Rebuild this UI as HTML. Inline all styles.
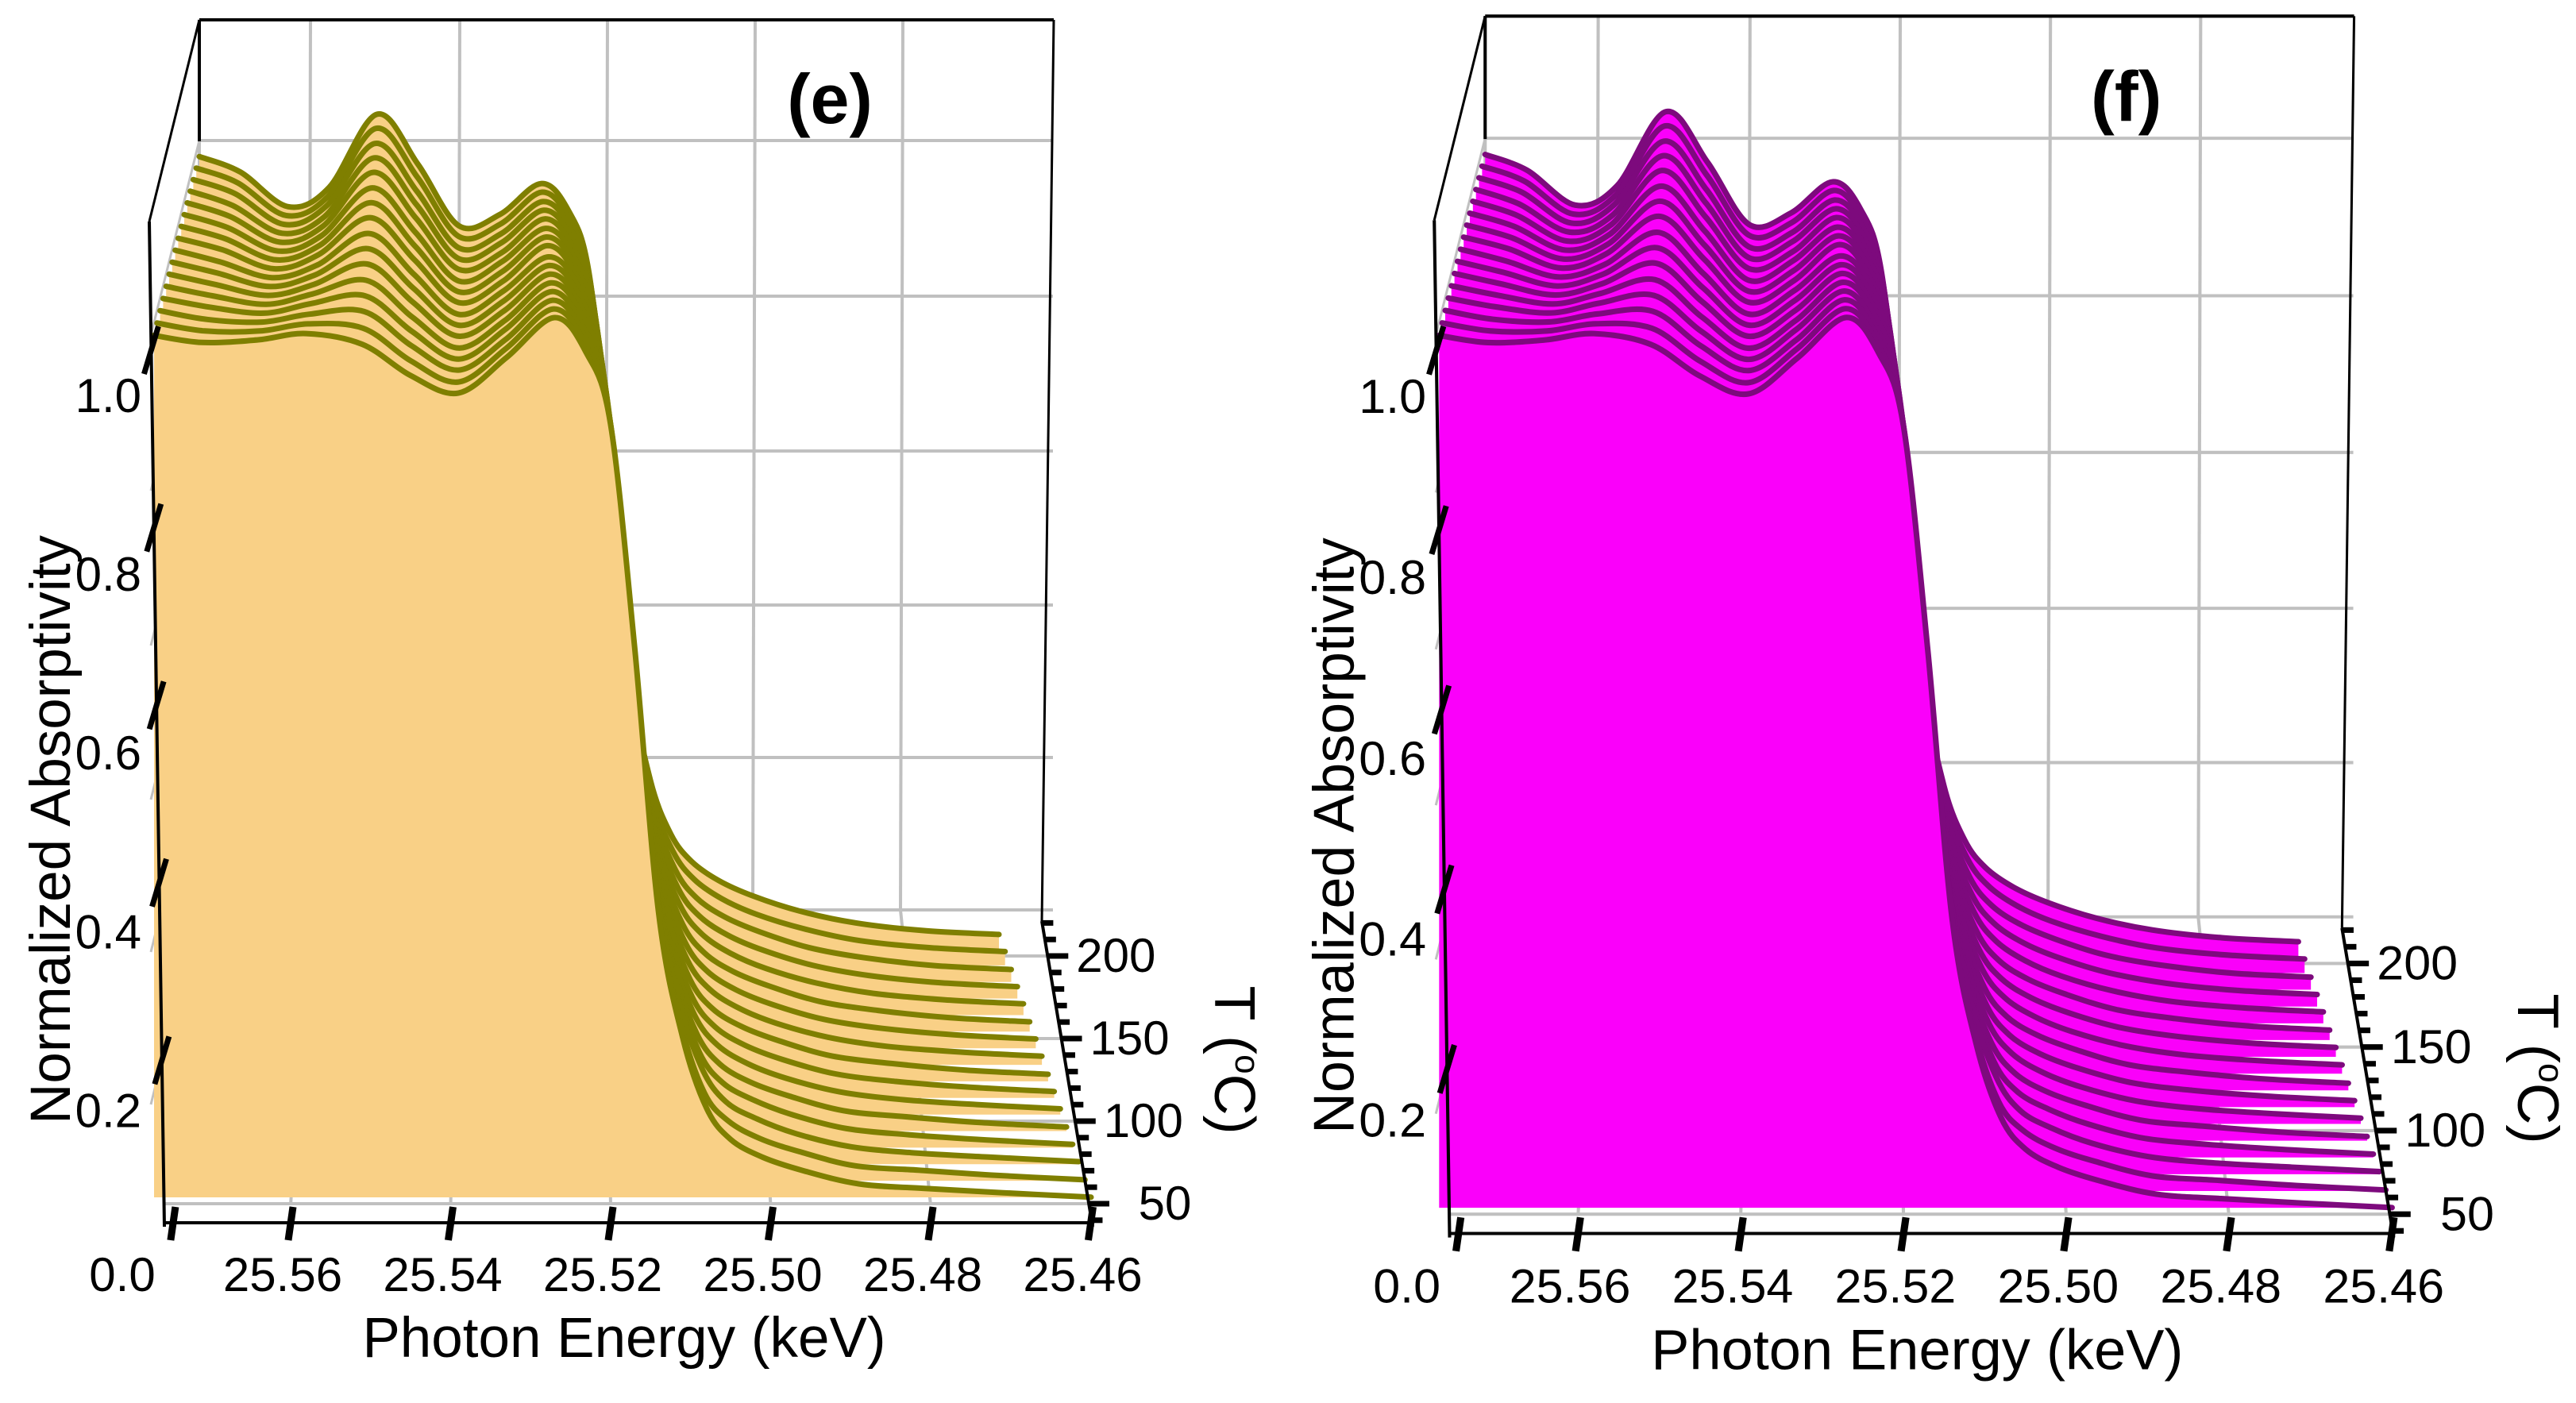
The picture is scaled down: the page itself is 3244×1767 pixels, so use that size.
<!DOCTYPE html>
<html><head><meta charset="utf-8">
<style>
html,body{margin:0;padding:0;background:#fff;}
svg{display:block;font-family:"Liberation Sans",Arial,sans-serif;}
</style></head>
<body>
<svg id="chart" width="3244" height="1767" viewBox="0 0 3244 1767" xmlns="http://www.w3.org/2000/svg">
<g id="panelE"></g>
<g id="panelF" transform="matrix(1.017,0,0,1.012,1615,-5)"></g>
</svg>
<script>
// ---- data ----
const temperatures = [50,60,70,80,90,100,110,120,130,140,150,160,170,180,190,200];
const energies = [25.576,25.570,25.563,25.557,25.550,25.544,25.538,25.532,25.526,25.522,25.519,25.516,25.513,25.510,25.507,25.504,25.500,25.495,25.488,25.480,25.470,25.459];
const a50  = [0.98,0.972,0.975,0.982,0.97,0.935,0.915,0.955,1.0,0.96,0.88,0.63,0.33,0.19,0.11,0.075,0.055,0.04,0.025,0.02,0.015,0.01];
const a60  = [0.984,0.975,0.975,0.983,0.978,0.941,0.917,0.955,1.0,0.96,0.88,0.63,0.33,0.19,0.11,0.078,0.058,0.043,0.027,0.022,0.016,0.011];
const a70  = [0.988,0.978,0.975,0.984,0.987,0.948,0.92,0.955,1.0,0.96,0.88,0.63,0.34,0.2,0.12,0.082,0.062,0.045,0.03,0.023,0.018,0.013];
const a80  = [0.992,0.982,0.975,0.986,0.995,0.954,0.922,0.956,1.0,0.96,0.88,0.63,0.34,0.2,0.12,0.085,0.065,0.048,0.032,0.025,0.019,0.014];
const a90  = [0.996,0.985,0.975,0.987,1.003,0.96,0.924,0.956,1.0,0.963,0.883,0.635,0.34,0.2,0.123,0.088,0.067,0.051,0.034,0.027,0.02,0.015];
const a100 = [1.0,0.988,0.975,0.988,1.012,0.967,0.927,0.957,1.0,0.963,0.883,0.637,0.343,0.203,0.127,0.092,0.07,0.053,0.037,0.028,0.022,0.017];
const a110 = [1.004,0.991,0.975,0.989,1.02,0.973,0.929,0.958,1.0,0.964,0.884,0.638,0.346,0.206,0.13,0.095,0.073,0.056,0.039,0.03,0.023,0.018];
const a120 = [1.008,0.994,0.975,0.99,1.028,0.979,0.931,0.959,1.0,0.965,0.885,0.64,0.35,0.21,0.133,0.098,0.076,0.059,0.041,0.032,0.024,0.019];
const a130 = [1.012,0.998,0.975,0.992,1.037,0.986,0.934,0.96,1.003,0.965,0.885,0.641,0.351,0.211,0.137,0.102,0.079,0.061,0.044,0.033,0.026,0.021];
const a140 = [1.016,1.001,0.975,0.993,1.045,0.992,0.936,0.961,1.003,0.966,0.886,0.642,0.354,0.214,0.14,0.105,0.082,0.064,0.046,0.035,0.027,0.022];
const a150 = [1.02,1.004,0.975,0.994,1.053,0.998,0.938,0.962,1.003,0.967,0.887,0.643,0.357,0.217,0.143,0.108,0.085,0.067,0.048,0.037,0.028,0.023];
const a160 = [1.024,1.007,0.975,0.995,1.062,1.005,0.941,0.962,1.004,0.967,0.887,0.645,0.359,0.219,0.147,0.112,0.088,0.069,0.051,0.038,0.03,0.025];
const a170 = [1.028,1.01,0.975,0.996,1.07,1.011,0.943,0.963,1.004,0.968,0.888,0.646,0.362,0.222,0.15,0.115,0.091,0.072,0.053,0.04,0.031,0.026];
const a180 = [1.032,1.014,0.975,0.998,1.078,1.017,0.945,0.963,1.004,0.969,0.889,0.647,0.365,0.225,0.153,0.118,0.094,0.075,0.055,0.042,0.032,0.027];
const a190 = [1.036,1.017,0.975,0.999,1.087,1.024,0.948,0.964,1.005,0.969,0.889,0.649,0.367,0.227,0.157,0.122,0.097,0.077,0.058,0.043,0.034,0.029];
const a200 = [1.04,1.02,0.975,1.0,1.095,1.03,0.95,0.965,1.005,0.97,0.89,0.65,0.37,0.23,0.16,0.125,0.1,0.08,0.06,0.045,0.035,0.03];
const absorptivity = [a50,a60,a70,a80,a90,a100,a110,a120,a130,a140,a150,a160,a170,a180,a190,a200];
const xTickValues = [25.56,25.54,25.52,25.50,25.48,25.46];
const xTickLabels = ["25.56","25.54","25.52","25.50","25.48","25.46"];
const yTickValues = [1.0,0.8,0.6,0.4,0.2];
const yTickLabels = ["1.0","0.8","0.6","0.4","0.2"];
const tTickValues = [200,150,100,50];
const tTickLabels = ["200","150","100","50"];

// ---- axis functions (perspective projection) ----
const E0 = 25.576, E1 = 25.459, T0 = 50, T1 = 200;
function tFrac(T){ return (T - T0) / (T1 - T0); }
function projX(E, T){
  const f = tFrac(T);
  const xL = 194 + 57 * f, xR = 1374 - 116 * f;
  return xL + (E0 - E) / (E0 - E1) * (xR - xL);
}
function baseY(T){ return 1519 - 313 * tFrac(T); }
function projY(A, T){
  const f = tFrac(T);
  return baseY(T) - A * (1119 - 149 * f);
}
function xAxis(E){ return 366 + (25.56 - E) / 0.02 * 201.5; }
function yAxisTick(A){ return 1559 - 1118 * A; }
function tAxisY(T){ return 1516 - (T - 50) * 2.08; }
function tAxisX(y){ return 1312 + (y - 1160) * (63 / 380); }

const NS = "http://www.w3.org/2000/svg";
function mk(parent, tag, attrs){
  const el = document.createElementNS(NS, tag);
  for (const k in attrs) el.setAttribute(k, attrs[k]);
  parent.appendChild(el);
  return el;
}
function smoothPath(pts){
  let d = "M" + pts[0][0].toFixed(1) + "," + pts[0][1].toFixed(1);
  for (let i = 0; i < pts.length - 1; i++){
    const p0 = pts[Math.max(0, i - 1)], p1 = pts[i], p2 = pts[i + 1], p3 = pts[Math.min(pts.length - 1, i + 2)];
    const c1x = p1[0] + (p2[0] - p0[0]) / 6, c1y = p1[1] + (p2[1] - p0[1]) / 6;
    const c2x = p2[0] - (p3[0] - p1[0]) / 6, c2y = p2[1] - (p3[1] - p1[1]) / 6;
    d += " C" + c1x.toFixed(1) + "," + c1y.toFixed(1) + " " + c2x.toFixed(1) + "," + c2y.toFixed(1) + " " + p2[0].toFixed(1) + "," + p2[1].toFixed(1);
  }
  return d;
}

function drawPanel(g, opt){
  const grid = "#c0c0c0";
  const backV = [391,579,765,951,1137];
  backV.forEach(function(x){
    const l = mk(g, "line", {x1:x, y1:25, x2:x - 3, y2:1146, stroke:grid, "stroke-width":4});
    
    
  });
  [177,373,568,762,954,1146].forEach(function(y){
    const l = mk(g, "line", {x1:251, y1:y, x2:1326, y2:y, stroke:grid, "stroke-width":4});
    
    
    const s = mk(g, "line", {x1:251, y1:y, x2:190, y2:y + 245, stroke:grid, "stroke-width":3});
    
    
  });
  const bl = mk(g, "line", {x1:251, y1:178, x2:251, y2:1146, stroke:grid, "stroke-width":4});
  
  
  tTickValues.forEach(function(T){
    const y = tAxisY(T);
    const l = mk(g, "line", {x1:205, y1:y, x2:tAxisX(y), y2:y, stroke:grid, "stroke-width":4});
    
    
  });
  xTickValues.slice(0,5).forEach(function(E, i){
    const l = mk(g, "line", {x1:backV[i] - 3, y1:1146, x2:xAxis(E), y2:1518, stroke:grid, "stroke-width":4});
    
    
  });

  for (let k = temperatures.length - 1; k >= 0; k--){
    const T = temperatures[k], row = absorptivity[k];
    const pts = energies.map(function(E, i){ return [projX(E, T), projY(row[i], T)]; });
    const d = smoothPath(pts);
    const yb = baseY(T) - 11;
    const fill = mk(g, "path", {d: d + " L" + pts[pts.length-1][0].toFixed(1) + "," + yb.toFixed(1) + " L" + pts[0][0].toFixed(1) + "," + yb.toFixed(1) + " Z", fill:opt.fill, stroke:"none"});
    
    
    const line = mk(g, "path", {d:d, fill:"none", stroke:opt.stroke, "stroke-width":7, "stroke-linejoin":"round", "stroke-linecap":"round"});
    
    
  }

  const frame = [[251,25,1327,25,4],[251,25,251,178,4],[251,25,188,279,3],[1327,25,1312,1160,3],[188,279,207,1545,4],[207,1540,1375,1540,4],[1312,1160,1376,1545,4]];
  frame.forEach(function(f){
    const l = mk(g, "line", {x1:f[0], y1:f[1], x2:f[2], y2:f[3], stroke:"#000", "stroke-width":f[4]});
    
    
  });
  [25.5747].concat(xTickValues).forEach(function(E){
    const x = xAxis(E);
    const t = mk(g, "line", {x1:x + 3, y1:1520, x2:x - 3, y2:1562, stroke:"#000", "stroke-width":9});
    
    
  });
  xTickValues.forEach(function(E, i){
    const t = mk(g, "text", {x:xAxis(E) - 10, y:1626, "font-size":60, "text-anchor":"middle", fill:"#000"});
    t.textContent = xTickLabels[i];
    
    
  });
  const z = mk(g, "text", {x:154, y:1626, "font-size":60, "text-anchor":"middle", fill:"#000"});
  z.textContent = "0.0";
  
  
  yTickValues.forEach(function(A, i){
    const y = yAxisTick(A);
    const xa = 188 + (y - 279) * (19 / 1266);
    const t = mk(g, "line", {x1:xa + 9, y1:y - 30, x2:xa - 9, y2:y + 30, stroke:"#000", "stroke-width":7});
    
    
    const lb = mk(g, "text", {x:178, y:y + 78 + i * 1.5, "font-size":60, "text-anchor":"end", fill:"#000"});
    lb.textContent = yTickLabels[i];
    
    
  });
  for (let T = 40; T <= 220; T += 10){
    const y = tAxisY(T), x = tAxisX(y);
    const major = (T % 50 === 0);
    const t = mk(g, "line", {x1:x, y1:y, x2:x + (major ? 26 : 14), y2:y, stroke:"#000", "stroke-width":7});
    
    
  }
  tTickValues.forEach(function(T, i){
    const y = tAxisY(T);
    const lb = mk(g, "text", {x:tAxisX(y) + 86 + (T === 50 ? 10 : 0), y:y + 20, "font-size":60, "text-anchor":"middle", fill:"#000"});
    lb.textContent = tTickLabels[i];
    
    
  });
  const tt = mk(g, "text", {x:0, y:0, "font-size":72, "text-anchor":"middle", fill:"#000", transform:"translate(1530,1335) rotate(90)"});
  tt.innerHTML = 'T (<tspan font-size="44" dy="-26">o</tspan><tspan dy="26">C)</tspan>';
  
  
  const xt = mk(g, "text", {x:786, y:1709, "font-size":71, "text-anchor":"middle", fill:"#000"});
  xt.textContent = "Photon Energy (keV)";
  
  
  const yt = mk(g, "text", {x:0, y:0, "font-size":71, "text-anchor":"middle", fill:"#000", transform:"translate(88,1045) rotate(-90)"});
  yt.textContent = "Normalized Absorptivity";
  
  
  const pl = mk(g, "text", {x:1045, y:155, "font-size":88, "font-weight":"bold", "text-anchor":"middle", fill:"#000"});
  pl.textContent = opt.label;
  
  
}

drawPanel(document.getElementById("panelE"), {fill:"#f9d086", stroke:"#7f7f00", label:"(e)"});
drawPanel(document.getElementById("panelF"), {fill:"#fa00fa", stroke:"#7d0a7d", label:"(f)"});
</script>
</body></html>
